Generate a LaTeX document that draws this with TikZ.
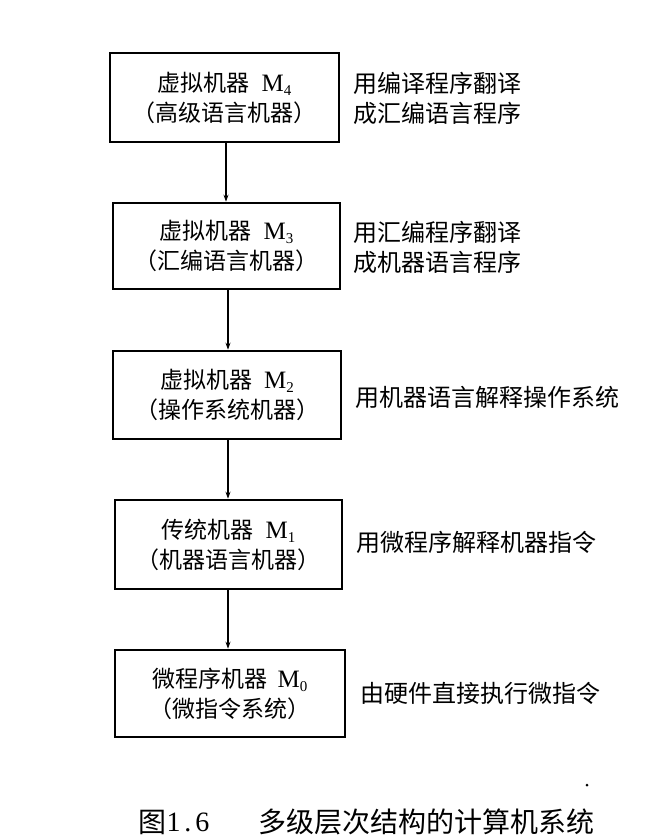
\documentclass[tikz,border=0pt]{standalone}
\usepackage{fontspec}
\newfontfamily\cjk{Noto Sans CJK SC}
\newfontfamily\serifl{Liberation Serif}
\usetikzlibrary{arrows.meta}
\newcommand{\machM}[1]{{\serifl\fontsize{25}{25}\selectfont M\raisebox{-4pt}{\fontsize{15}{15}\selectfont #1}}}
\begin{document}
\begin{tikzpicture}[x=1pt,y=-1pt,
  machbox/.style={draw=black,line width=2.6pt,rectangle,inner sep=0pt,align=center,
    font=\cjk\fontsize{23}{30}\selectfont},
  sidetext/.style={anchor=west,align=left,inner sep=0pt,font=\cjk\fontsize{24}{30}\selectfont},
  arr/.style={line width=1.3pt,-{Stealth[length=7pt,width=5pt]}},
  captext/.style={inner sep=0pt,font=\fontsize{28}{30}\selectfont}]
\useasboundingbox (0,0) rectangle (651,836);
\fill[white] (0,0) rectangle (651,836);
\node[machbox,minimum width=229pt,minimum height=89pt] (b1) at (224.5,97.5)
  {虚拟机器\hspace{12pt}\machM{4}\\（高级语言机器）};
\node[machbox,minimum width=227pt,minimum height=86pt] (b2) at (226.5,246)
  {虚拟机器\hspace{12pt}\machM{3}\\（汇编语言机器）};
\node[machbox,minimum width=228pt,minimum height=88pt] (b3) at (227,395)
  {虚拟机器\hspace{12pt}\machM{2}\\（操作系统机器）};
\node[machbox,minimum width=227pt,minimum height=89pt] (b4) at (228.5,544.5)
  {传统机器\hspace{12pt}\machM{1}\\（机器语言机器）};
\node[machbox,minimum width=230pt,minimum height=87pt] (b5) at (230,693.5)
  {微程序机器\hspace{10pt}\machM{0}\\（微指令系统）};
\draw[arr] ([xshift=1.5pt]b1.south) -- ([xshift=1.5pt]b1.south |- b2.north);
\draw[arr] ([xshift=1.5pt]b2.south) -- ([xshift=1.5pt]b2.south |- b3.north);
\draw[arr] ([xshift=1pt]b3.south) -- ([xshift=1pt]b3.south |- b4.north);
\draw[arr] ([xshift=-0.5pt]b4.south) -- ([xshift=-0.5pt]b4.south |- b5.north);
\node[sidetext] (t1) at (353,98) {用编译程序翻译\\成汇编语言程序};
\node[sidetext] (t2) at (353,247) {用汇编程序翻译\\成机器语言程序};
\node[sidetext] (t3) at (355,397) {用机器语言解释操作系统};
\node[sidetext] (t4) at (356,542) {用微程序解释机器指令};
\node[sidetext] (t5) at (360,693) {由硬件直接执行微指令};
\node[captext] (c1) at (152,822) {\cjk 图};
\node[captext] (c2) at (188,822) {\serifl 1\kern4pt.\kern4pt6};
\node[captext] (c3) at (426.5,822) {\cjk 多级层次结构的计算机系统};
\fill[black] (587,785) circle (1.5pt);
\end{tikzpicture}
\end{document}
